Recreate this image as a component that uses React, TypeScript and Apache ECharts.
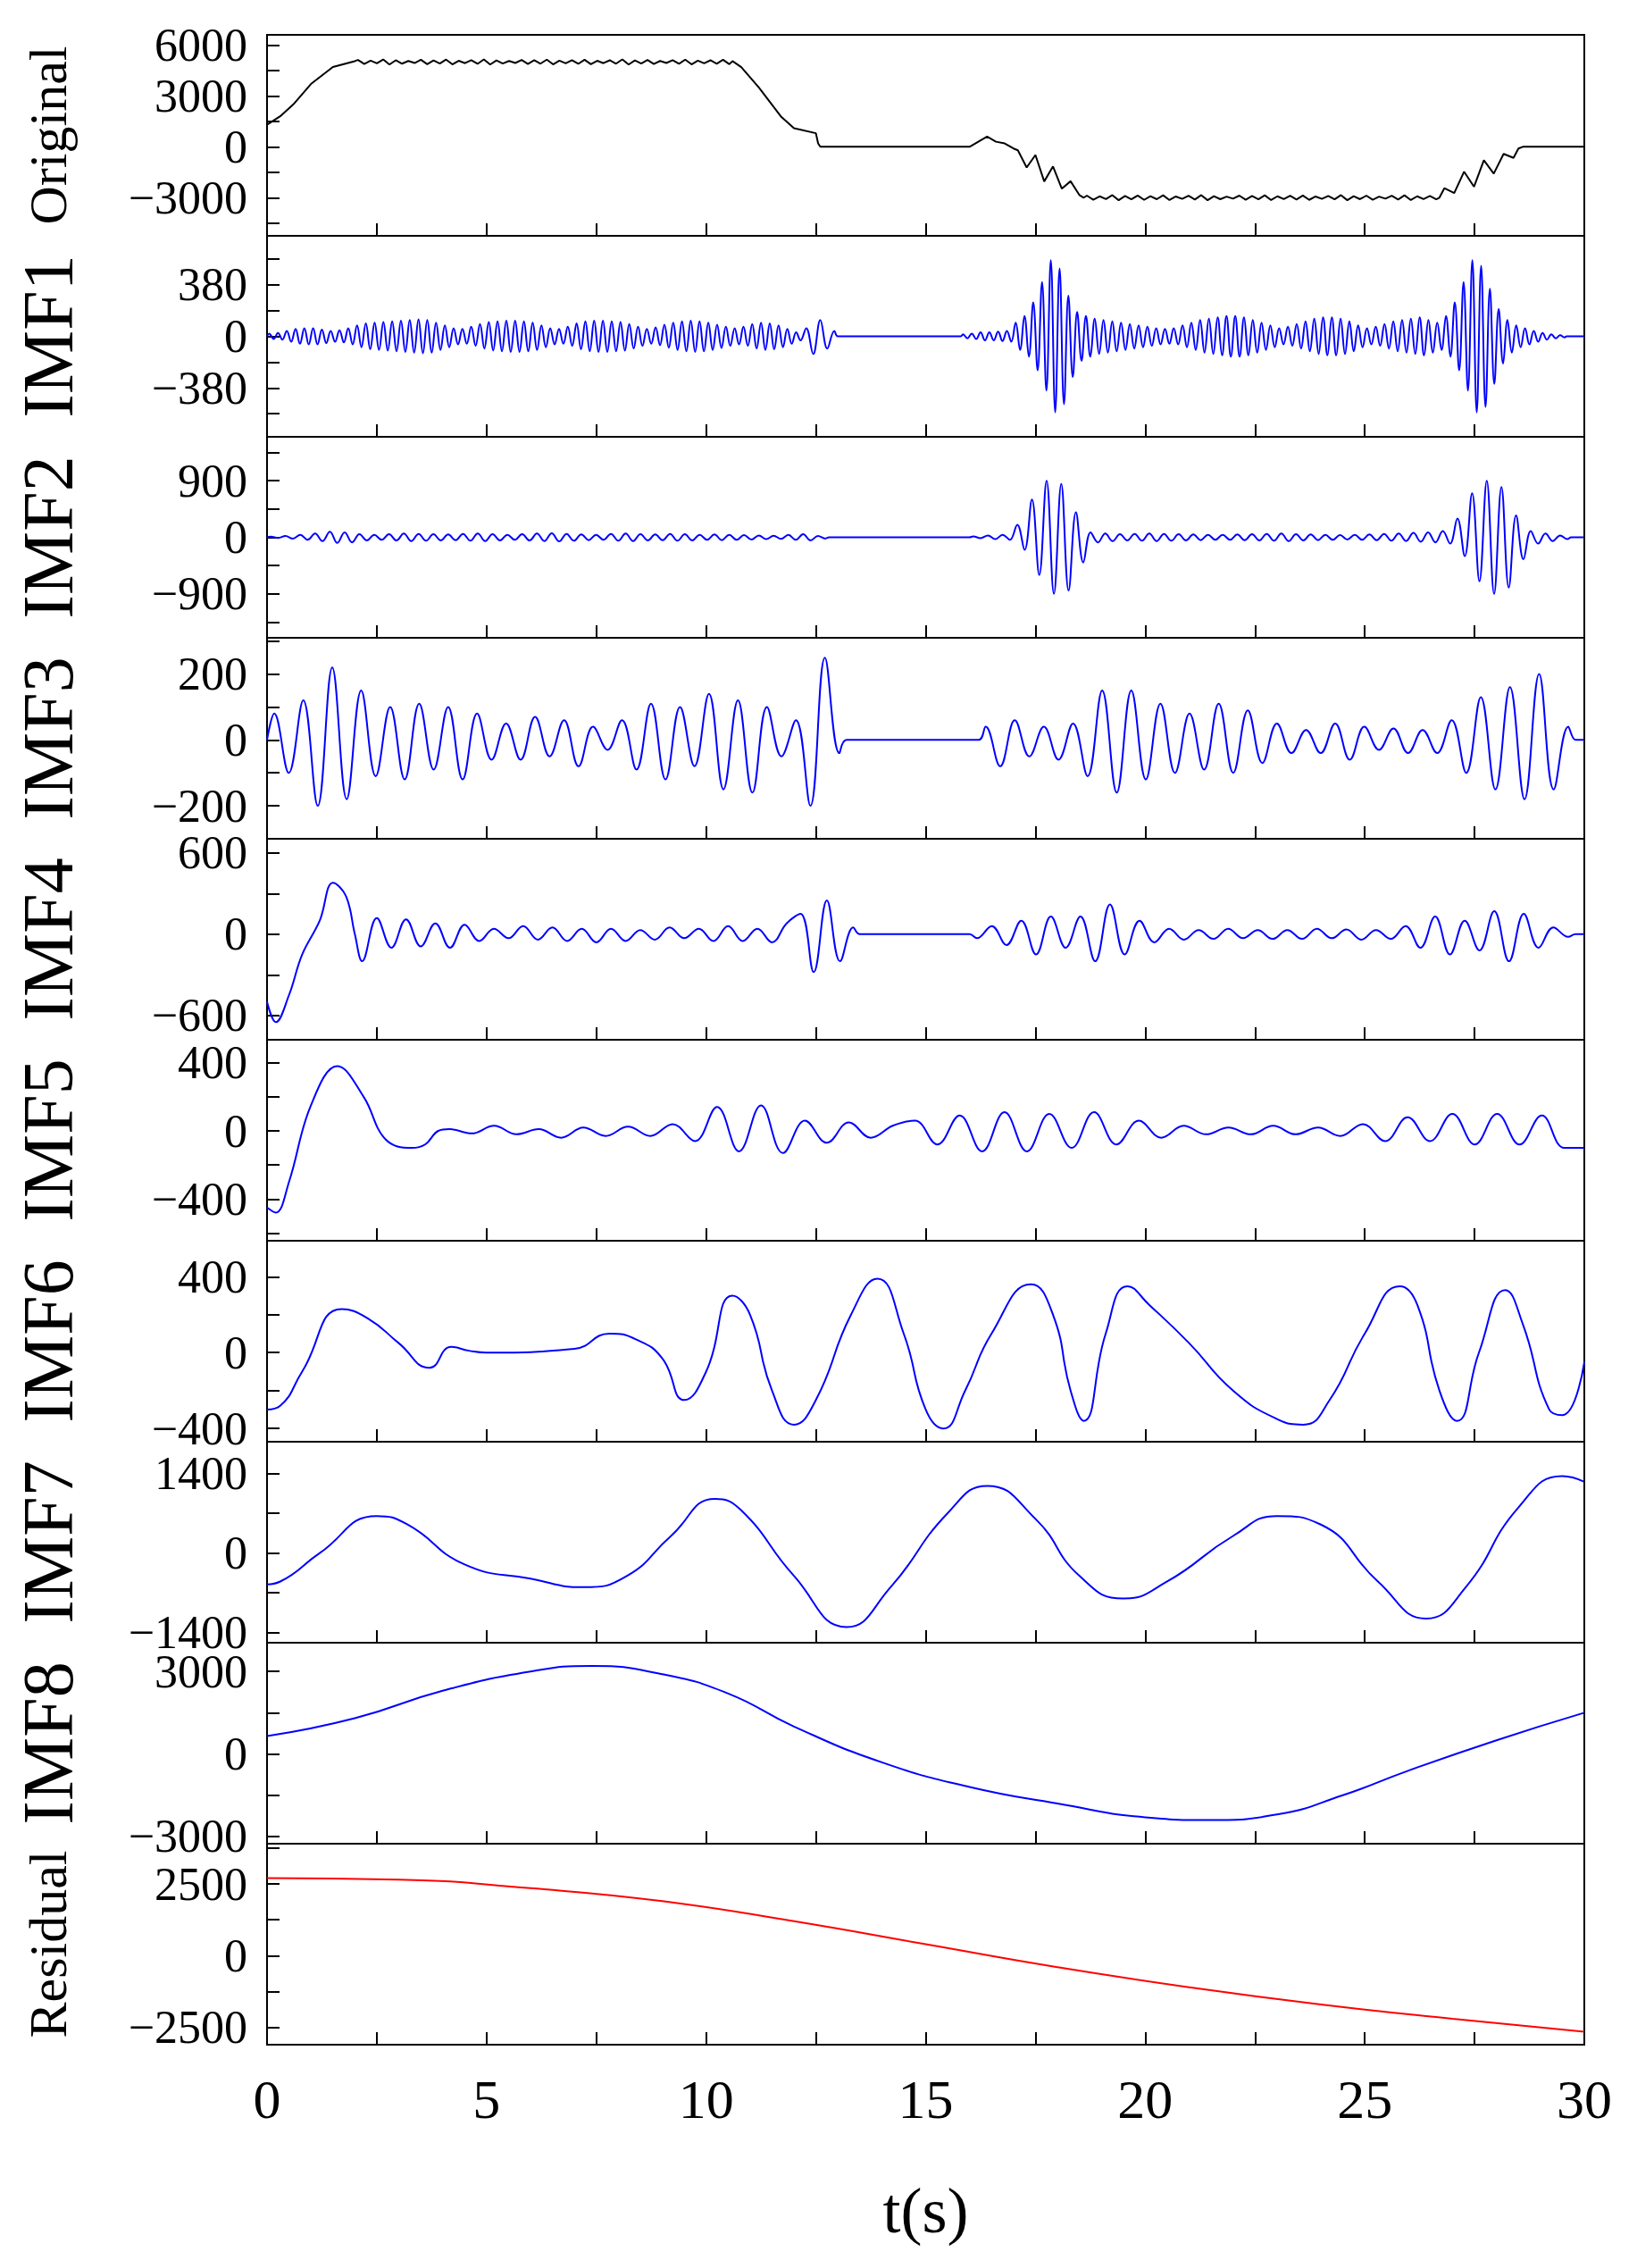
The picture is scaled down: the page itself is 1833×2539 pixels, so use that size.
import React, { useEffect, useRef } from "react";
import * as echarts from "echarts";

type P = [number, number];

// ---------- data ----------
// oscillation segments: [t0, t1, peak amplitudes, extrema per amplitude, first sign, base0, base1]
type Seg = [number, number, number[], number, number, number, number];

const origKnots: P[] = [[0,1300],[0.3,1800],[0.6,2500],[1.0,3700],[1.5,4700],[2.0,5050],[10.6,5050],[10.8,4700],[11.2,3500],[11.7,1800],[12.0,1100],[12.5,800],[12.55,200],[12.6,0],[16.0,0],[16.2,300],[16.4,600],[16.6,300],[16.8,200],[17.0,-100],[18.6,-3000],[26.7,-3000],[28.5,-100],[28.6,0],[30,0]];
const origSegs: Seg[] = [
  [2.0, 10.6, [120,80,150,100,60,130,90,140,70,110,150,90,60,120,100,140,80,110,130,70,100,150,90,120,60,110,140,80,100,130], 2, 1, 5000, 5000],
  [17.0, 18.6, [250,450,600,650,550,450,300,200], 1, 1, -300, -2800],
  [18.6, 26.7, [120,80,150,100,130,90,140,70,110,150,90,60,120,100,140,80,110,130,70,100,150,90,120,60,110,140,80,100], 2, 1, -3000, -3000],
  [26.7, 28.5, [200,400,550,650,600,500,350,200], 1, 1, -2800, -300],
];

const imf1Knots: P[] = [[0,0],[13.0,0],[15.8,0],[29.6,0],[30,0]];
const imf1Segs: Seg[] = [
  [0, 12.2, [20,25,40,55,60,60,50,40,45,60,80,95,100,105,110,115,120,125,120,100,80,60,55,70,90,105,110,115,115,110,100,80,60,55,70,95,110,115,115,110,105,90,70,55,65,85,100,110,115,110,100,85,70,60,70,90,100,95,80,55,30], 2, 1, 0, 0],
  [12.2, 13.0, [60,130,120,90,40], 1, 1, 0, 0],
  [15.8, 29.6, [15,20,30,30,35,40, 100,150,250,400,560,500,300,180, 150,130,120,110,100,90,80,70,60,55, 60,80,100,120,130,140,150,150,140,120,100,80, 60,70,90,110,130,140,140,130,110,80,60, 70,90,110,120,130,140,120,100, 150,250,400,560,520,350,200,120,80, 60,40,25,15,8], 2, 1, 0, 0],
];

const imf2Knots: P[] = [[0,0],[12.8,0],[16.0,0],[29.7,0],[30,0]];
const imf2Segs: Seg[] = [
  [0, 12.8, [10,20,40,60,90,80,50,40,50,60,55,50,45,55,60,50,40,50,60,65,55,45,40,55,60,50,45,55,50,40,45,40,35,30,25,40,50,20], 2, 1, 0, 0],
  [16.0, 29.7, [15,30,40, 200,600,900,850,400, 80,60,50,55,60,55,50,45,40,40,45,50,55,60,50,45,40,35,40,45,55,60,70,80,100, 300,700,900,800,350, 100,60,30], 2, 1, 0, 0],
];

const imf3Knots: P[] = [[0,0],[13.2,0],[16.2,0],[29.8,0],[30,0]];
const imf3Segs: Seg[] = [
  [0, 13.2, [80,100,120,200,220,180,150,110,100,120,110,90,100,120,80,60,50,60,70,50,60,80,40,30,60,90,110,120,100,80,140,150,120,160,100,50,60,200,250,40], 1, 1, 0, 0],
  [16.2, 29.8, [40,80,60,50,40,60,50,110,150,160,150,120,110,100,80,90,110,100,90,70,50,40,30,40,50,60,40,30,35,40,30,40,60,100,130,150,160,180,200,150,40], 1, 1, 0, 0],
];

const imf4Knots: P[] = [[0,-500],[0.2,-650],[0.5,-450],[0.8,-150],[1.2,100],[1.5,380],[1.8,280],[2.0,0],[13.5,0],[16.0,0],[29.8,0],[30,0]];
const imf4Segs: Seg[] = [
  [2.0, 12.0, [200,120,100,110,90,80,100,70,50,40,30,60,40,50,50,40,60,40,50,30,40,50,30,40,50,60,50,40,60,80], 1, -1, 0, 0],
  [12.0, 13.5, [150,280,250,200,50], 1, 1, 0, 0],
  [16.0, 29.8, [30,60,80,100,150,130,100,130,200,220,150,100,60,40,40,30,35,40,30,30,35,30,35,40,30,35,40,30,35,60,100,130,150,100,120,170,200,150,100,50,20], 1, -1, 0, 0],
];

const imf5Knots: P[] = [[0,-450],[0.2,-480],[0.5,-300],[1.0,150],[1.6,380],[2.2,200],[2.7,-50],[3.3,-100],[3.6,-80],[3.9,0],[30,-100]];
const imf5Segs: Seg[] = [
  [3.9, 10.0, [10,15,30,20,10,40,20,30,25,30,40,60], 1, 1, 0, 0],
  [10.0, 14.5, [140,120,150,130,60,70,50,40,30], 1, 1, 0, 0],
  [14.5, 29.8, [60,80,90,120,110,120,100,100,110,80,60,40,30,20,20,20,30,20,20,30,40,60,80,60,100,80,100,80,90,100], 1, 1, 0, 0],
];

const imf6: P[] = [[0,-300],[0.3,-280],[0.8,-100],[1.7,230],[2.3,180],[3.0,50],[3.7,-80],[4.2,30],[4.6,10],[5.0,0],[7,20],[7.8,100],[8.4,70],[9.0,-30],[9.5,-250],[10.0,-100],[10.6,300],[11.0,200],[11.5,-200],[12.0,-380],[12.5,-250],[13.3,200],[13.9,390],[14.5,100],[15.0,-300],[15.4,-400],[15.9,-200],[16.5,100],[17.4,360],[17.9,200],[18.3,-200],[18.6,-360],[19.1,100],[19.6,350],[20.1,250],[21.0,50],[22.0,-200],[23.0,-350],[23.6,-380],[24.2,-250],[25.0,100],[25.8,350],[26.2,250],[26.7,-200],[27.1,-360],[27.6,0],[28.2,330],[28.6,150],[29.2,-300],[29.5,-330],[30,-50]];
const imf7: P[] = [[0,-550],[0.3,-500],[1.2,0],[2.5,650],[3.2,500],[4.5,-200],[6,-450],[7.2,-600],[8.2,-400],[9.2,300],[10.2,950],[10.8,750],[12.0,-400],[13.2,-1300],[14.2,-600],[15.5,700],[16.4,1180],[17.5,600],[18.5,-400],[19.5,-800],[20.5,-500],[22.0,300],[23.0,650],[24.0,500],[25.3,-500],[26.4,-1150],[27.3,-600],[28.5,800],[29.5,1350],[30,1250]];
const imf8: P[] = [[0,650],[2,1300],[4,2300],[6,3000],[7.4,3200],[9,2900],[10.5,2200],[12,1000],[14,-300],[16,-1200],[18,-1800],[20,-2300],[21.5,-2400],[23,-2200],[24.5,-1500],[26,-600],[28,500],[30,1500]];
const residual: P[] = [[0,2700],[3,2650],[6,2350],[9,1900],[12,1200],[15,400],[18,-400],[21,-1100],[24,-1700],[27,-2200],[30,-2650]];

const names = ["Original","IMF1","IMF2","IMF3","IMF4","IMF5","IMF6","IMF7","IMF8","Residual"];
const yMin = [-5250,-740,-1600,-300,-780,-645,-470,-1575,-3260,-3100];
const yMax = [6600,740,1600,310,705,535,590,1955,4045,3900];
const yLabels = [[-3000,0,3000,6000],[-380,0,380],[-900,0,900],[-200,0,200],[-600,0,600],[-400,0,400],[-400,0,400],[-1400,0,1400],[-3000,0,3000],[-2500,0,2500]];
const xTicks = [0,5,10,15,20,25,30];

// ---------- helpers ----------
function osc(seg: Seg): P[] {
  const [t0, t1, amps, k, s0, b0, b1] = seg;
  const n = amps.length * k;
  const out: P[] = [];
  let s = s0;
  for (let i = 0; i < n; i++) {
    const f = (i + 0.5) / n;
    out.push([t0 + f * (t1 - t0), b0 + (b1 - b0) * f + s * amps[Math.floor(i / k)]]);
    s = -s;
  }
  return out;
}
function build(knots: P[], segs: Seg[]): P[] {
  const pts = [...knots];
  segs.forEach((sg) => pts.push(...osc(sg)));
  return pts.sort((a, b) => a[0] - b[0]);
}

const seriesData: P[][] = [
  build(origKnots, origSegs),
  build(imf1Knots, imf1Segs),
  build(imf2Knots, imf2Segs),
  build(imf3Knots, imf3Segs),
  build(imf4Knots, imf4Segs),
  build(imf5Knots, imf5Segs),
  imf6, imf7, imf8, residual,
];
const colors = ["#000000", ...Array(8).fill("#0000ff"), "#ff0000"];
const smooths = [false, 0.4, 0.4, 0.4, 0.4, 0.4, 0.5, 0.5, 0.5, 0.5];

const FONT = "Liberation Serif";

export default function App() {
  const ref = useRef<HTMLDivElement>(null);
  useEffect(() => {
    const chart = echarts.init(ref.current!, null, { renderer: "svg" });
    const L = 299, W = 1475, T0 = 39, H = 225;
    const grids: any[] = [], xAxes: any[] = [], yAxes: any[] = [], series: any[] = [];
    names.forEach((nm, i) => {
      const last = i === names.length - 1;
      grids.push({ left: L, width: W, top: T0 + i * H, height: H, show: true, borderColor: "#000", borderWidth: 2, backgroundColor: "transparent" });
      xAxes.push({
        type: "value", gridIndex: i, min: 0, max: 30, interval: 5, position: "bottom",
        axisLine: { show: true, onZero: false, lineStyle: { color: "#000", width: 2 } },
        axisTick: { show: true, inside: true, length: 14, lineStyle: { color: "#000", width: 2 } },
        minorTick: { show: true, splitNumber: 2, length: 14, lineStyle: { color: "#000", width: 2 } },
        splitLine: { show: false },
        axisLabel: { show: last, interval: 0, hideOverlap: false, fontFamily: FONT, fontSize: 62, color: "#000", margin: 30, customValues: xTicks },
        name: last ? "t(s)" : "", nameLocation: "middle", nameGap: 150,
        nameTextStyle: { fontFamily: FONT, fontSize: 72, color: "#000" },
      });
      const lab = yLabels[i];
      const d = lab[1] - lab[0];
      const ticks: number[] = [];
      for (let v = lab[0] - d / 2; v <= yMax[i]; v += d / 2) if (v >= yMin[i]) ticks.push(v);
      const isImf = nm.startsWith("IMF");
      yAxes.push({
        type: "value", gridIndex: i, min: yMin[i], max: yMax[i], position: "left",
        axisLine: { show: true, onZero: false, lineStyle: { color: "#000", width: 2 } },
        axisTick: { show: true, inside: true, length: 14, customValues: ticks, lineStyle: { color: "#000", width: 2 } },
        splitLine: { show: false },
        axisLabel: { interval: 0, hideOverlap: false, showMinLabel: true, showMaxLabel: true, fontFamily: FONT, fontSize: 52, lineHeight: 44, color: "#000", margin: 22, customValues: lab, formatter: (v: number) => (v < 0 ? "\u2212" + Math.abs(v) : String(v)) },
        name: nm, nameLocation: "middle", nameGap: isImf ? 205 : 215, nameRotate: 90,
        nameTextStyle: { fontFamily: FONT, fontSize: isImf ? 80 : 60, color: "#000" },
      });
      series.push({
        type: "line", xAxisIndex: i, yAxisIndex: i, data: seriesData[i], showSymbol: false,
        smooth: smooths[i], lineStyle: { color: colors[i], width: 2 }, clip: true,
      });
    });
    chart.setOption({ animation: false, backgroundColor: "#fff", grid: grids, xAxis: xAxes, yAxis: yAxes, series });
    return () => chart.dispose();
  }, []);
  return <div ref={ref} style={{ position: "absolute", left: 0, top: 0, width: 1833, height: 2539 }} />;
}
